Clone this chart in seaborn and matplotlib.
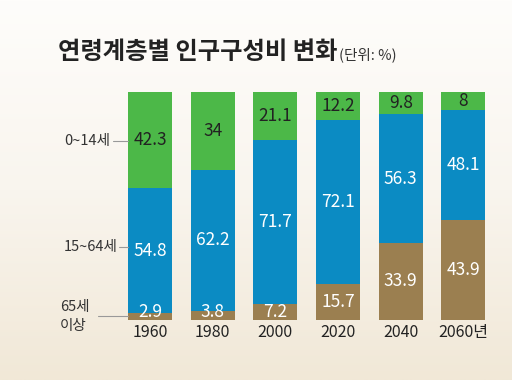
import numpy as np
import pandas as pd
import seaborn as sns
import matplotlib.pyplot as plt
from matplotlib.colors import LinearSegmentedColormap

sns.set_theme(style="white")
plt.rcParams['font.family'] = ['Noto Sans CJK KR', 'DejaVu Sans']

years = ['1960', '1980', '2000', '2020', '2040', '2060년']
young = [42.3, 34, 21.1, 12.2, 9.8, 8]        # 0~14세
working = [54.8, 62.2, 71.7, 72.1, 56.3, 48.1]  # 15~64세
old = [2.9, 3.8, 7.2, 15.7, 33.9, 43.9]        # 65세 이상

c_young = '#4cb848'
c_work = '#0b8bc3'
c_old = '#9b7f50'

df = pd.DataFrame({'year': years, 'young': young, 'working': working, 'old': old})
df['top'] = df['young'] + df['working'] + df['old']
df['mid'] = df['working'] + df['old']

fig = plt.figure(figsize=(5.12, 3.80), dpi=100)

# background gradient
bg = fig.add_axes([0, 0, 1, 1], zorder=-10)
grad = np.linspace(0, 1, 256)[:, None]
cmap = LinearSegmentedColormap.from_list('bg', ['#fefdfb', '#f9f5ee', '#f1e8d7'])
bg.imshow(grad, aspect='auto', cmap=cmap, extent=[0, 1, 0, 1])
bg.axis('off')

ax = fig.add_axes([112.4 / 512, 60 / 380, (501 - 112.4) / 512, 228 / 380])
ax.patch.set_alpha(0)

w = 0.70
sns.barplot(data=df, x='year', y='top', color=c_young, width=w, ax=ax,
            saturation=1, linewidth=0)
sns.barplot(data=df, x='year', y='mid', color=c_work, width=w, ax=ax,
            saturation=1, linewidth=0)
sns.barplot(data=df, x='year', y='old', color=c_old, width=w, ax=ax,
            saturation=1, linewidth=0)

for i in range(len(years)):
    yo, wk, od = young[i], working[i], old[i]
    ax.text(i, max(od / 2, 3.6), f'{od:g}', ha='center', va='center',
            color='white', fontsize=12.5)
    ax.text(i, od + wk / 2, f'{wk:g}', ha='center', va='center',
            color='white', fontsize=12.5)
    ax.text(i, od + wk + yo / 2, f'{yo:g}', ha='center', va='center',
            color='#222222', fontsize=12.5)

ax.set_xlim(-0.6, 5.6)
ax.set_ylim(0, 100)
ax.set_xlabel('')
ax.set_ylabel('')
ax.set_yticks([])
ax.tick_params(axis='x', length=0, pad=3, labelsize=11.5, labelcolor='#222222')
for s in ax.spines.values():
    s.set_visible(False)

# left category labels with leader lines
def px(x, y):
    return x / 512, 1 - y / 380

lab_col = '#333333'
line_col = '#999999'
fig.text(*px(110, 141), '0~14세', ha='right', va='center', fontsize=10.5, color=lab_col)
fig.add_artist(plt.Line2D([113 / 512, 128 / 512], [1 - 141 / 380] * 2, color=line_col, lw=0.8))
fig.text(*px(118, 247), '15~64세', ha='right', va='center', fontsize=10.5, color=lab_col)
fig.add_artist(plt.Line2D([119 / 512, 128 / 512], [1 - 247 / 380] * 2, color=line_col, lw=0.8))
fig.text(*px(60, 307), '65세', ha='left', va='center', fontsize=10.5, color=lab_col)
fig.text(*px(60, 326), '이상', ha='left', va='center', fontsize=10.5, color=lab_col)
fig.add_artist(plt.Line2D([98 / 512, 128 / 512], [1 - 316 / 380] * 2, color=line_col, lw=0.8))

# title
fig.text(*px(58, 52), '연령계층별 인구구성비 변화', ha='left', va='center',
         fontsize=17.5, fontweight='bold', color='#222222')
fig.text(*px(339, 55), '(단위: %)', ha='left', va='center', fontsize=10.5, color='#333333')

fig.savefig('out.png', dpi=100)
